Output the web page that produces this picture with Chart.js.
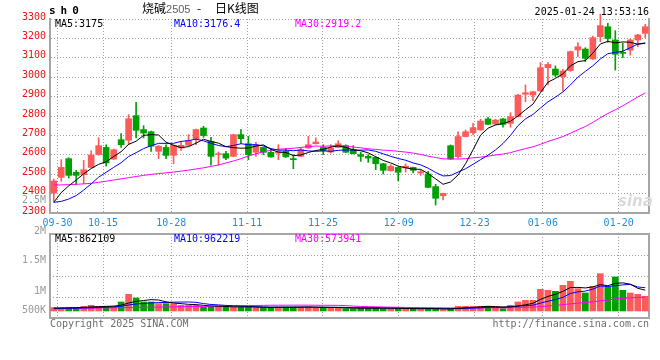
<!DOCTYPE html>
<html>
<head>
<meta charset="utf-8">
<script src="https://cdn.jsdelivr.net/npm/chart.js@4.4.1/dist/chart.umd.min.js"></script>
<style>
  body { margin: 0; background: #fff; overflow: hidden; }
  #wrap { position: relative; width: 660px; height: 360px; overflow: hidden; }
  #wrap canvas { position: absolute; left: 0; }
  .t { position: absolute; white-space: nowrap; font-family: "DejaVu Sans Mono", monospace; font-size: 10px; line-height: 12px; }
  .cjk { font-family: "Noto Sans CJK SC", sans-serif; font-size: 12px; line-height: 16px; top: 0; }
</style>
</head>
<body>
<div id="wrap">
  <canvas id="kChart" width="660" height="232" style="top:0"></canvas>
  <canvas id="volChart" width="660" height="136" style="top:224px"></canvas>

  <div class="t" style="left:49px;top:5px;font-size:11px;font-weight:bold;letter-spacing:5px">sh0</div>
  <div class="t cjk" style="left:142px">烧碱<span style="font:11px 'Liberation Sans';color:#606060">2505</span></div>
  <div class="t cjk" style="left:197px">-</div>
  <div class="t cjk" style="left:215px">日K线图</div>
  <div class="t" style="right:11px;top:6px">2025-01-24 13:53:16</div>

  <div class="t" id="kLeg5" style="left:55px;top:18px;color:#000"></div>
  <div class="t" id="kLeg10" style="left:174px;top:18px;color:#0000ff"></div>
  <div class="t" id="kLeg30" style="left:295px;top:18px;color:#ff00ff"></div>
  <div class="t" style="right:614px;top:194px;color:#9a9a9a">2.5M</div>
  <div class="t" style="left:618px;top:192px;font:italic bold 15px 'DejaVu Sans';color:#dadada">sina</div>

  <div class="t" id="vLeg5" style="left:55px;top:233px;color:#000"></div>
  <div class="t" id="vLeg10" style="left:174px;top:233px;color:#0000ff"></div>
  <div class="t" id="vLeg30" style="left:295px;top:233px;color:#ff00ff"></div>

  <div class="t" style="left:50px;top:318px;color:#6e6e6e">Copyright 2025 SINA.COM</div>
  <div class="t" style="right:11px;top:318px;color:#6e6e6e">http://finance.sina.com.cn</div>
</div>

<script>
// trading days shown (09-27 .. 01-24)
const dates = ['09-27','09-30','10-08','10-09','10-10','10-11','10-14','10-15','10-16','10-17',
  '10-18','10-21','10-22','10-23','10-24','10-25','10-28','10-29','10-30','10-31',
  '11-01','11-04','11-05','11-06','11-07','11-08','11-11','11-12','11-13','11-14',
  '11-15','11-18','11-19','11-20','11-21','11-22','11-25','11-26','11-27','11-28',
  '11-29','12-02','12-03','12-04','12-05','12-06','12-09','12-10','12-11','12-12',
  '12-13','12-16','12-17','12-18','12-19','12-20','12-23','12-24','12-25','12-26',
  '12-27','12-30','12-31','01-02','01-03','01-06','01-07','01-08','01-09','01-10',
  '01-13','01-14','01-15','01-16','01-17','01-20','01-21','01-22','01-23','01-24'];

const opens = [2403,2484,2580,2510,2498,2535,2601,2638,2578,2678,
  2675,2802,2730,2719,2618,2638,2597,2635,2649,2683,
  2738,2669,2601,2606,2592,2704,2657,2613,2638,2613,
  2609,2618,2580,2592,2635,2657,2638,2614,2638,2647,
  2626,2601,2592,2587,2554,2518,2535,2532,2535,2506,
  2501,2436,2389,2647,2590,2694,2714,2728,2785,2759,
  2785,2762,2797,2912,2908,2929,3049,3042,3003,3034,
  3140,3145,3094,3209,3260,3192,3126,3140,3192,3226];
const highs = [2475,2575,2585,2520,2571,2621,2688,2652,2630,2709,
  2807,2870,2750,2722,2648,2652,2652,2669,2704,2733,
  2747,2690,2615,2618,2706,2730,2695,2664,2640,2630,
  2652,2632,2600,2638,2695,2687,2652,2652,2673,2652,
  2647,2613,2601,2590,2556,2549,2537,2553,2537,2523,
  2515,2448,2403,2651,2719,2728,2762,2783,2793,2783,
  2788,2817,2912,2960,2927,3075,3075,3058,3041,3135,
  3178,3152,3212,3325,3278,3240,3175,3197,3221,3273];
const lows = [2360,2463,2480,2446,2451,2532,2598,2541,2575,2638,
  2652,2687,2687,2618,2580,2580,2554,2623,2645,2652,
  2690,2546,2546,2575,2590,2657,2575,2592,2601,2588,
  2575,2587,2528,2590,2633,2655,2601,2609,2636,2611,
  2604,2566,2561,2523,2501,2516,2467,2511,2506,2494,
  2430,2341,2367,2576,2582,2692,2702,2726,2755,2754,
  2742,2742,2795,2874,2879,2927,2960,3003,2929,3030,
  3106,3080,3092,3183,3180,3037,3101,3114,3157,3204];
const closes = [2465,2535,2494,2494,2523,2599,2647,2558,2626,2652,
  2786,2726,2712,2644,2644,2597,2649,2649,2673,2730,
  2699,2592,2606,2583,2704,2683,2601,2652,2613,2589,
  2616,2589,2575,2626,2652,2666,2621,2635,2657,2613,
  2606,2592,2583,2554,2520,2541,2510,2541,2520,2513,
  2432,2376,2401,2578,2694,2719,2740,2774,2757,2779,
  2757,2797,2908,2920,2925,3049,3066,3011,3032,3132,
  3157,3097,3204,3266,3200,3118,3123,3192,3218,3260];

const ma5 = [2355,2405,2440,2470,2502,2529,2551,2564,2591,2616,
  2654,2670,2700,2704,2702,2665,2649,2637,2642,2660,
  2680,2669,2660,2642,2637,2634,2635,2645,2651,2628,
  2614,2612,2596,2599,2612,2622,2628,2640,2646,2638,
  2626,2621,2610,2590,2571,2558,2542,2533,2526,2525,
  2503,2476,2448,2460,2496,2554,2626,2701,2737,2754,
  2761,2773,2800,2832,2861,2920,2974,2994,3017,3058,
  3080,3086,3124,3171,3185,3177,3182,3180,3170,3175];
const ma10 = [2355,2360,2372,2390,2418,2450,2485,2510,2535,2559,
  2591,2611,2632,2647,2659,2659,2659,2669,2673,2681,
  2672,2659,2648,2642,2648,2657,2652,2652,2646,2632,
  2624,2624,2621,2625,2620,2618,2620,2618,2623,2625,
  2624,2624,2625,2618,2605,2592,2581,2572,2558,2548,
  2531,2509,2491,2493,2511,2528,2551,2575,2598,2625,
  2658,2700,2750,2785,2808,2841,2873,2897,2924,2960,
  3000,3030,3059,3094,3121,3128,3134,3152,3171,3176.4];
const ma30 = [2444,2445,2446,2448,2450,2453,2458,2464,2470,2476,
  2482,2488,2494,2499,2503,2507,2511,2516,2521,2527,
  2533,2540,2548,2558,2568,2580,2594,2605,2615,2624,
  2629,2631,2634,2638,2642,2645,2644,2646,2647,2646,
  2640,2636,2631,2628,2624,2622,2618,2614,2609,2602,
  2593,2586,2579,2579,2578,2580,2584,2588,2593,2599,
  2604,2611,2622,2632,2641,2654,2669,2681,2694,2711,
  2729,2746,2767,2791,2813,2832,2853,2875,2898,2919.2];

const volumes = [138210,136540,139880,137150,192730,233860,191420,194060,192580,371930,
  688140,536720,372450,371280,302670,303940,301520,234380,233170,234950,
  164820,165730,193260,164590,165480,164210,166030,137640,138520,137880,
  165310,164490,165870,164720,165160,137930,138470,137260,138810,96340,
  95870,124520,123680,138140,96210,95730,96580,96120,95940,96470,
  95810,96260,55380,96040,193120,192650,193480,192870,193310,138240,
  96180,234410,371920,441280,440750,895360,853940,812470,1059830,1225410,
  921860,743120,1019370,1542180,990860,1403950,854210,743380,688260,606170];
const volMa5 = [120000,125000,130000,138000,149000,168000,179000,190000,201000,237000,
  328000,397000,432000,468000,454000,377000,331000,303000,275000,262000,
  234000,206000,198000,184000,171000,171000,171000,160000,154000,149000,
  149000,149000,154000,160000,165000,160000,154000,149000,143000,130000,
  121000,118000,116000,116000,116000,116000,110000,104000,96000,96000,
  96000,96000,88000,88000,107000,127000,146000,174000,193000,182000,
  163000,171000,207000,256000,317000,477000,601000,689000,812000,969000,
  975000,952000,994000,1090000,1043000,1140000,1162000,1107000,936000,862109];
const volMa10 = [100000,105000,110000,115000,122000,132000,143000,155000,172000,193000,
  248000,288000,311000,335000,346000,353000,364000,368000,372000,358000,
  306000,269000,251000,230000,216000,202000,189000,179000,169000,160000,
  160000,160000,157000,157000,157000,154000,152000,152000,152000,147000,
  140000,136000,132000,130000,123000,118000,114000,110000,106000,106000,
  103000,100000,92000,92000,102000,111000,117000,131000,150000,154000,
  154000,172000,200000,219000,240000,324000,404000,472000,565000,723000,
  788000,821000,903000,1030000,1009000,1046000,1078000,1099000,990000,962219];
const volMa30 = [104000,107000,111000,113000,118000,121000,123000,128000,133000,136000,
  142000,147000,150000,157000,162000,165000,170000,177000,182000,185000,
  190000,197000,202000,205000,211000,217000,222000,227000,232000,237000,
  238000,239000,240000,241000,240000,236000,235000,233000,231000,222000,
  202000,188000,180000,172000,165000,158000,151000,147000,142000,138000,
  135000,133000,128000,126000,127000,128000,129000,131000,133000,133000,
  130000,133000,139000,149000,158000,183000,207000,229000,260000,298000,
  325000,346000,376000,423000,452000,496000,521000,543000,563000,573941];

const xTickLabels = ['09-30','10-15','10-28','11-11','11-25','12-09','12-23','01-06','01-20'];
// volume captions sit where Sina prints them, not at their own heights
const volTickLabels = ['2M','1.5M','1M','500K'];
const volTickAt = [3180000, 1960000, 700000, -100000];

const maNames = ['MA5', 'MA10', 'MA30'];
const maColors = ['#000000', '#0000ff', '#ff00ff'];

const N = dates.length;
const RED = '#ff5a5a', GREEN = '#00a000';
const GRID = '#a0a0a0', FRAME = '#a6a6a6';
const mono = { family: 'DejaVu Sans Mono', size: 10 };
const candleColors = closes.map((c, i) => c >= opens[i] ? RED : GREEN);
const xy = arr => arr.map((v, i) => ({ x: i, y: v }));

// Sina spreads the date grid over N-1 steps while candles fill N slots
const gridAt = xTickLabels.map(d => dates.indexOf(d) * N / (N - 1) - 0.5);

function dateScale(showLabels) {
  return {
    type: 'linear', min: -0.5, max: N - 0.5, offset: false,
    afterBuildTicks: s => { s.ticks = gridAt.map(v => ({ value: v })); },
    ticks: {
      display: showLabels, autoSkip: false, maxRotation: 0, padding: 4,
      color: '#1e8fe0', font: mono,
      callback: (v, i) => xTickLabels[i]
    },
    grid: { color: GRID, drawTicks: false, offset: false },
    border: { color: FRAME, width: 2, dash: [1, 2] },
    afterFit: s => { s.height = showLabels ? 19 : 0; }
  };
}

function frameScale(pos, min, max) {
  return {
    position: pos, min: min, max: max,
    ticks: { display: false }, grid: { display: false, drawTicks: false },
    border: { color: FRAME, width: 2 },
    afterFit: s => { if (pos === 'top') s.height = 0; else s.width = 0; }
  };
}

function maLine(data, k, yId) {
  return {
    type: 'line', data: xy(data), xAxisID: 'x', yAxisID: yId,
    borderColor: maColors[k], borderWidth: 1, pointRadius: 0, tension: 0, order: 0
  };
}

const baseOpts = {
  responsive: false, maintainAspectRatio: false, animation: false, events: [],
  plugins: { legend: { display: false }, tooltip: { enabled: false } }
};

new Chart(document.getElementById('kChart'), {
  type: 'bar',
  data: {
    datasets: [
      maLine(ma5, 0, 'y'), maLine(ma10, 1, 'y'), maLine(ma30, 2, 'y'),
      {
        data: closes.map((c, i) => ({ x: i, y: [Math.min(opens[i], c), Math.max(opens[i], c)] })),
        xAxisID: 'x', yAxisID: 'y', backgroundColor: candleColors,
        barThickness: 6, minBarLength: 1, grouped: false, order: 1
      },
      {
        data: highs.map((h, i) => ({ x: i, y: [lows[i], h] })),
        xAxisID: 'x', yAxisID: 'y', backgroundColor: candleColors,
        barThickness: 1, grouped: false, order: 2,
        clip: { left: 0, top: false, right: 0, bottom: 0 }
      }
    ]
  },
  options: Object.assign({}, baseOpts, {
    layout: { padding: { left: 0, right: 11, top: 19, bottom: 0 } },
    scales: {
      x: dateScale(true),
      y: {
        position: 'left', min: 2300, max: 3300,
        ticks: { stepSize: 100, color: '#ee1111', font: mono, padding: 4, labelOffset: -2, callback: v => String(v) },
        grid: { color: GRID, drawTicks: false },
        border: { color: FRAME, width: 2, dash: [1, 2] },
        afterFit: s => { s.width = 50; }
      },
      yR: frameScale('right', 2300, 3300)
    }
  })
});

const volMin = -290000, volMax = 3180000;
new Chart(document.getElementById('volChart'), {
  type: 'bar',
  data: {
    datasets: [
      maLine(volMa5, 0, 'y'), maLine(volMa10, 1, 'y'), maLine(volMa30, 2, 'y'),
      {
        data: xy(volumes), xAxisID: 'x', yAxisID: 'y',
        backgroundColor: candleColors, barThickness: 6, grouped: false, order: 1
      }
    ]
  },
  options: Object.assign({}, baseOpts, {
    layout: { padding: { left: 0, right: 11, top: 10, bottom: 42 } },
    scales: {
      x: dateScale(false),
      xTop: frameScale('top', 0, 1),
      y: {
        position: 'left', min: volMin, max: volMax,
        afterBuildTicks: s => { s.ticks = volTickAt.map(v => ({ value: v })); },
        ticks: { autoSkip: false, color: '#9a9a9a', font: mono, padding: 4, labelOffset: -3, callback: (v, i) => volTickLabels[i] },
        grid: { display: false, drawTicks: false },
        border: { color: FRAME, width: 2 },
        afterFit: s => { s.width = 50; }
      },
      yGrid: {
        position: 'right', min: volMin, max: volMax,
        afterBuildTicks: s => { s.ticks = [0, 1, 2, 3, 4].map(k => ({ value: volMin + k * (volMax - volMin) / 4 })); },
        ticks: { display: false },
        grid: { color: GRID, drawTicks: false },
        border: { color: FRAME, width: 2, dash: [1, 2] },
        afterFit: s => { s.width = 0; }
      }
    }
  })
});

// legends: last value of each moving average
const kMa = [ma5, ma10, ma30], vMa = [volMa5, volMa10, volMa30];
['kLeg5', 'kLeg10', 'kLeg30'].forEach((id, k) => {
  document.getElementById(id).textContent = maNames[k] + ':' + kMa[k][N - 1];
});
['vLeg5', 'vLeg10', 'vLeg30'].forEach((id, k) => {
  document.getElementById(id).textContent = maNames[k] + ':' + vMa[k][N - 1];
});
</script>
</body>
</html>
